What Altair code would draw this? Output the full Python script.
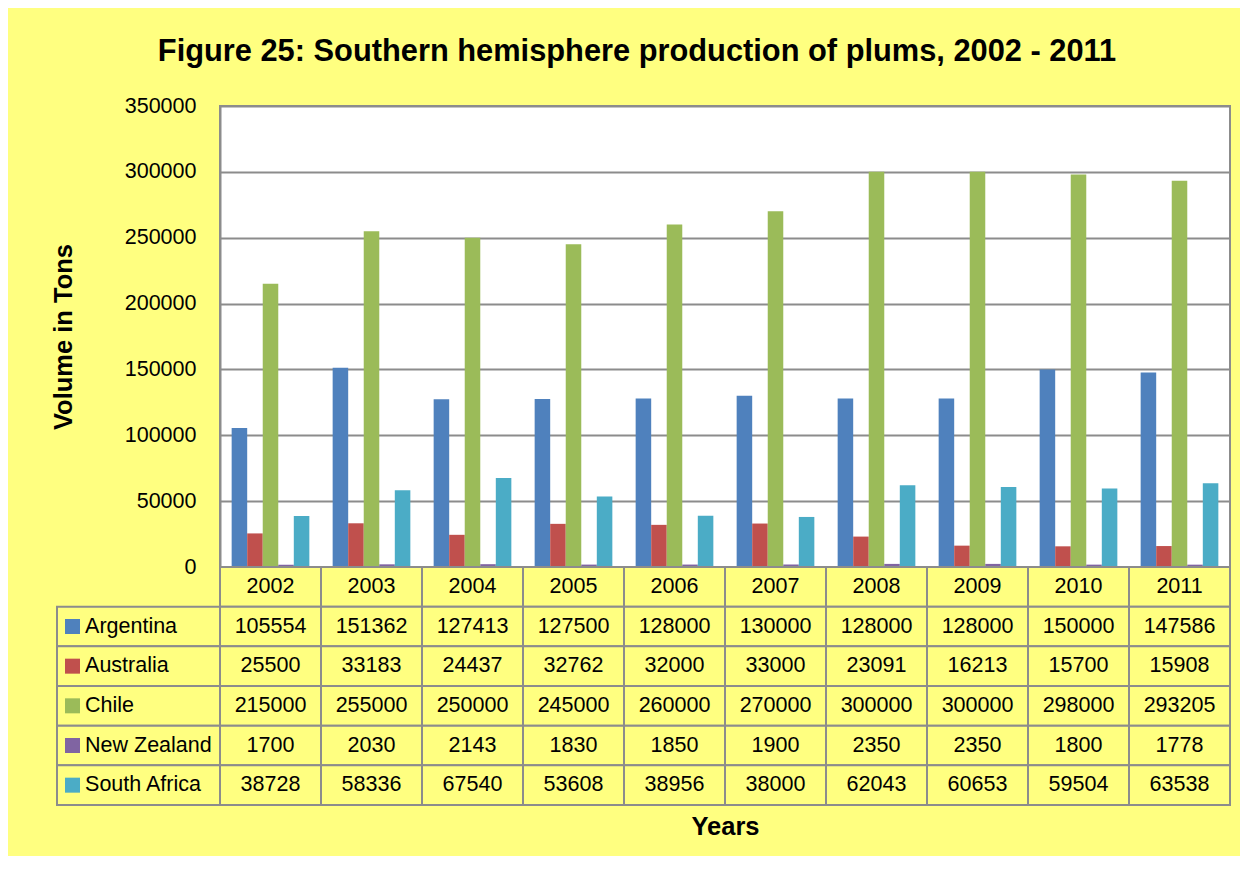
import altair as alt
import pandas as pd

years = ["2002", "2003", "2004", "2005", "2006", "2007", "2008", "2009", "2010", "2011"]
countries = ["Argentina", "Australia", "Chile", "New Zealand", "South Africa"]
argentina = [105554, 151362, 127413, 127500, 128000, 130000, 128000, 128000, 150000, 147586]
australia = [25500, 33183, 24437, 32762, 32000, 33000, 23091, 16213, 15700, 15908]
chile = [215000, 255000, 250000, 245000, 260000, 270000, 300000, 300000, 298000, 293205]
new_zealand = [1700, 2030, 2143, 1830, 1850, 1900, 2350, 2350, 1800, 1778]
south_africa = [38728, 58336, 67540, 53608, 38956, 38000, 62043, 60653, 59504, 63538]
colors = ["#4F81BD", "#C0504D", "#9BBB59", "#8064A2", "#4BACC6"]
y_ticks = [0, 50000, 100000, 150000, 200000, 250000, 300000, 350000]

YELLOW = "#FFFF80"
GRAY = "#8C8C8C"
FONT = "Liberation Sans, Arial, sans-serif"

series = dict(zip(countries, [argentina, australia, chile, new_zealand, south_africa]))
records = []
for c, vals in series.items():
    for yr, v in zip(years, vals):
        records.append({"year": yr, "country": c, "value": v})
df = pd.DataFrame(records)

cells = pd.DataFrame(
    [{"year": yr, "row": "header", "label": yr} for yr in years]
    + [{"year": r.year, "row": r.country, "label": str(r.value)} for r in df.itertuples()]
)
labels_df = pd.DataFrame({"row": countries})

table_rows = ["header"] + countries
W, H = 1010, 461

x_year = alt.Scale(domain=years, paddingInner=0, paddingOuter=0)
y_row = alt.Scale(domain=table_rows, range=[H, H + 238], paddingInner=0, paddingOuter=0)
lab_x = alt.Scale(domain=[0, 1], range=[-163, 0])
color_scale = alt.Scale(domain=countries, range=colors)

bars = alt.Chart(df).mark_bar().encode(
    x=alt.X("year:N", scale=x_year,
            axis=alt.Axis(title="Years", labels=False, ticks=False, domain=False,
                          titlePadding=247)),
    xOffset=alt.XOffset("country:N", scale=alt.Scale(domain=countries, paddingOuter=0.75, paddingInner=0)),
    y=alt.Y("value:Q", scale=alt.Scale(domain=[0, 350000]),
            axis=alt.Axis(title="Volume in Tons", values=y_ticks, format="d", ticks=False,
                          labelPadding=24, titlePadding=48, domainColor=GRAY, domainWidth=2)),
    color=alt.Color("country:N", scale=color_scale, legend=None),
)

cell_rect = alt.Chart(cells).mark_rect(fill=YELLOW, stroke=GRAY, strokeWidth=2).encode(
    x=alt.X("year:N", scale=x_year, axis=None),
    y=alt.Y("row:N", scale=y_row, axis=None),
)
cell_text = alt.Chart(cells).mark_text(font=FONT, fontSize=21.5, color="black").encode(
    x=alt.X("year:N", scale=x_year, axis=None),
    y=alt.Y("row:N", scale=y_row, axis=None),
    text="label:N",
)
lab_rect = alt.Chart(labels_df).mark_rect(fill=YELLOW, stroke=GRAY, strokeWidth=2).encode(
    x=alt.X(datum=0, scale=lab_x, axis=None),
    x2=alt.X2(datum=1),
    y=alt.Y("row:N", scale=y_row, axis=None),
)
lab_sq = alt.Chart(labels_df).mark_square(size=225, opacity=1).encode(
    x=alt.X(datum=0.095, scale=lab_x, axis=None),
    y=alt.Y("row:N", scale=y_row, axis=None),
    color=alt.Color("row:N", scale=color_scale, legend=None),
)
lab_text = alt.Chart(labels_df).mark_text(font=FONT, fontSize=21.5, color="black", align="left").encode(
    x=alt.X(datum=0.172, scale=lab_x, axis=None),
    y=alt.Y("row:N", scale=y_row, axis=None),
    text="row:N",
)

chart = alt.layer(bars, cell_rect, cell_text, lab_rect, lab_sq, lab_text).resolve_scale(
    x="independent", y="independent"
).properties(
    width=W, height=H,
    autosize=alt.AutoSizeParams(type="none"),
    padding={"left": 212, "top": 98, "right": 10, "bottom": 289},
    background=YELLOW,
    title=alt.TitleParams(
        "Figure 25: Southern hemisphere production of plums, 2002 - 2011",
        font=FONT, fontSize=30.8, fontWeight="bold", color="black",
        anchor="middle", dx=-88, offset=27,
    ),
).configure_view(
    fill="white", stroke=GRAY, strokeWidth=2
).configure_axis(
    labelFont=FONT, labelFontSize=21.5, labelColor="black",
    titleFont=FONT, titleFontSize=25.5, titleFontWeight="bold", titleColor="black",
    gridColor=GRAY, gridWidth=2, gridOpacity=1,
)

chart.save("out.html", embed_options={"renderer": "svg", "actions": False})
